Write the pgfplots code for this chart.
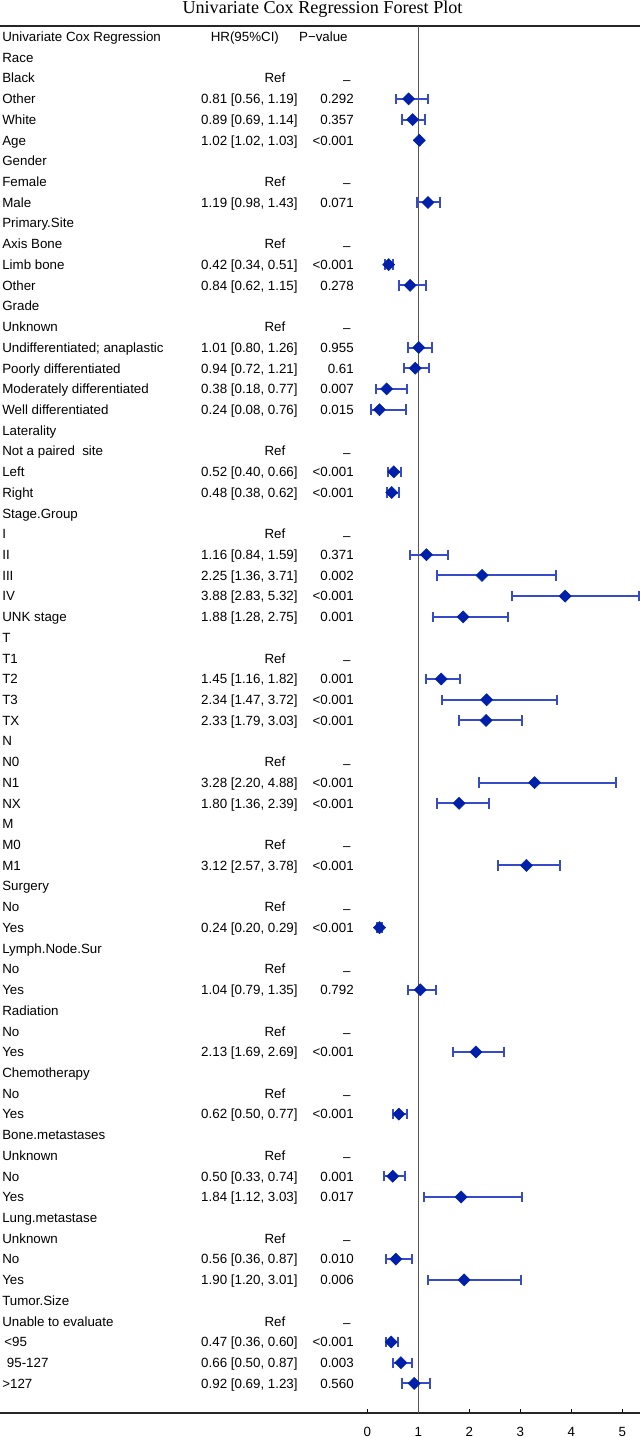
\documentclass[border=0pt]{standalone}
\usepackage{fontspec}
\setmainfont{Liberation Sans}
\newfontfamily\titlefont{Liberation Serif}
\usepackage{pgfplots}
\usepackage{pgfplotstable}
\pgfplotsset{compat=1.18}
\definecolor{dia}{RGB}{0,32,170}
\definecolor{bar}{RGB}{55,75,200}
\definecolor{vline}{RGB}{85,85,85}
\newcommand{\semi}{\char59\relax}

\pgfplotstableread{
y label
0 {Univariate Cox Regression}
1 Race
2 Black
3 Other
4 White
5 Age
6 Gender
7 Female
8 Male
9 Primary.Site
10 {Axis Bone}
11 {Limb bone}
12 Other
13 Grade
14 Unknown
15 {Undifferentiated\semi{} anaplastic}
16 {Poorly differentiated}
17 {Moderately differentiated}
18 {Well differentiated}
19 Laterality
20 {Not a paired\ \ site}
21 Left
22 Right
23 Stage.Group
24 I
25 II
26 III
27 IV
28 {UNK stage}
29 T
30 T1
31 T2
32 T3
33 TX
34 N
35 N0
36 N1
37 NX
38 M
39 M0
40 M1
41 Surgery
42 No
43 Yes
44 Lymph.Node.Sur
45 No
46 Yes
47 Radiation
48 No
49 Yes
50 Chemotherapy
51 No
52 Yes
53 Bone.metastases
54 Unknown
55 No
56 Yes
57 Lung.metastase
58 Unknown
59 No
60 Yes
61 Tumor.Size
62 {Unable to evaluate}
63 {\hspace{1.5pt}<95}
64 {\hspace{3.5pt}95-127}
65 {>127}
}\labtab

\pgfplotstableread{
y hr lo hi hrtxt p
3 0.81 0.56 1.19 {0.81 [0.56, 1.19]} 0.292
4 0.89 0.69 1.14 {0.89 [0.69, 1.14]} 0.357
5 1.02 1.02 1.03 {1.02 [1.02, 1.03]} {<0.001}
8 1.19 0.98 1.43 {1.19 [0.98, 1.43]} 0.071
11 0.42 0.34 0.51 {0.42 [0.34, 0.51]} {<0.001}
12 0.84 0.62 1.15 {0.84 [0.62, 1.15]} 0.278
15 1.01 0.80 1.26 {1.01 [0.80, 1.26]} 0.955
16 0.94 0.72 1.21 {0.94 [0.72, 1.21]} 0.61
17 0.38 0.18 0.77 {0.38 [0.18, 0.77]} 0.007
18 0.24 0.08 0.76 {0.24 [0.08, 0.76]} 0.015
21 0.52 0.40 0.66 {0.52 [0.40, 0.66]} {<0.001}
22 0.48 0.38 0.62 {0.48 [0.38, 0.62]} {<0.001}
25 1.16 0.84 1.59 {1.16 [0.84, 1.59]} 0.371
26 2.25 1.36 3.71 {2.25 [1.36, 3.71]} 0.002
27 3.88 2.83 5.32 {3.88 [2.83, 5.32]} {<0.001}
28 1.88 1.28 2.75 {1.88 [1.28, 2.75]} 0.001
31 1.45 1.16 1.82 {1.45 [1.16, 1.82]} 0.001
32 2.34 1.47 3.72 {2.34 [1.47, 3.72]} {<0.001}
33 2.33 1.79 3.03 {2.33 [1.79, 3.03]} {<0.001}
36 3.28 2.20 4.88 {3.28 [2.20, 4.88]} {<0.001}
37 1.80 1.36 2.39 {1.80 [1.36, 2.39]} {<0.001}
40 3.12 2.57 3.78 {3.12 [2.57, 3.78]} {<0.001}
43 0.24 0.20 0.29 {0.24 [0.20, 0.29]} {<0.001}
46 1.04 0.79 1.35 {1.04 [0.79, 1.35]} 0.792
49 2.13 1.69 2.69 {2.13 [1.69, 2.69]} {<0.001}
52 0.62 0.50 0.77 {0.62 [0.50, 0.77]} {<0.001}
55 0.50 0.33 0.74 {0.50 [0.33, 0.74]} 0.001
56 1.84 1.12 3.03 {1.84 [1.12, 3.03]} 0.017
59 0.56 0.36 0.87 {0.56 [0.36, 0.87]} 0.010
60 1.90 1.20 3.01 {1.90 [1.20, 3.01]} 0.006
63 0.47 0.36 0.60 {0.47 [0.36, 0.60]} {<0.001}
64 0.66 0.50 0.87 {0.66 [0.50, 0.87]} 0.003
65 0.92 0.69 1.23 {0.92 [0.69, 1.23]} 0.560
}\datatab

\pgfplotstableread{
y
2
7
10
14
20
24
30
35
39
42
45
48
51
54
58
62
}\reftab

\newcommand{\bodyfont}{\fontsize{10}{12}\selectfont}

\begin{document}
\begin{tikzpicture}
\path[use as bounding box] (0,-17.8pt) rectangle (480pt,1060pt);
\begin{axis}[
  at={(0,0)}, anchor=south west,
  scale only axis, width=480pt, height=1040.7pt,
  xmin=-7.2, xmax=5.347, ymin=-0.53, ymax=66.44,
  y dir=reverse, clip=false,
  axis line style={draw=none},
  xtick={0,1,2,3,4,5}, ytick=\empty,
  xtick pos=bottom, tick align=inside,
  major tick length=3.5pt,
  tick style={black, line width=0.8pt},
  xticklabel style={font=\bodyfont, yshift=-7pt},
  /pgf/number format/assume math mode=true,
  title={Univariate Cox Regression Forest Plot},
  title style={at={(0.5,1)}, anchor=base, yshift=3.3pt, xshift=1.9pt,
    font=\titlefont\fontsize{13.6}{16}\selectfont},
  every node near coord/.append style={font=\bodyfont, inner sep=0pt, text=black},
]
% frame lines
\draw[line width=1.3pt, black!85] (rel axis cs:0,0) -- (rel axis cs:1,0);
\draw[line width=1.3pt, black!85] (rel axis cs:0,1) -- (rel axis cs:1,1);
% reference line at HR = 1
\addplot[vline, line width=1pt] coordinates {(1,-0.53) (1,66.44)};

% labels column
\addplot[draw=none, nodes near coords, point meta=explicit symbolic,
  nodes near coords style={anchor=base west, yshift=-3.6pt}]
  table[x expr=-7.16, y=y, meta=label] {\labtab};
% HR text column
\addplot[draw=none, nodes near coords, point meta=explicit symbolic,
  nodes near coords style={anchor=base east, yshift=-3.6pt}]
  table[x expr=-1.36, y=y, meta=hrtxt] {\datatab};
% p-value column
\addplot[draw=none, nodes near coords, point meta=explicit symbolic,
  nodes near coords style={anchor=base east, yshift=-3.6pt}]
  table[x expr=-0.26, y=y, meta=p] {\datatab};
% Ref / dash
\addplot[draw=none, nodes near coords={Ref},
  nodes near coords style={anchor=base, yshift=-3.6pt}]
  table[x expr=-1.81, y=y] {\reftab};
\addplot[draw=none, nodes near coords={--},
  nodes near coords style={anchor=base, yshift=-4.6pt}]
  table[x expr=-0.40, y=y] {\reftab};
% headers
\addplot[draw=none, nodes near coords={HR(95\%CI)},
  nodes near coords style={anchor=base, yshift=-3.6pt}]
  coordinates {(-2.40,0)};
\addplot[draw=none, nodes near coords={P\textminus value},
  nodes near coords style={anchor=base, yshift=-3.6pt}]
  coordinates {(-0.86,0)};

% forest points
\addplot[only marks, mark=square*, mark size=3.2pt,
  mark options={rotate=45, fill=dia, draw=dia},
  error bars/.cd, x dir=both, x explicit,
  error mark=|,
  error bar style={bar, line width=1.5pt},
  error mark options={bar, line width=1.5pt, mark size=3.9pt}]
  table[x=hr, y=y,
    x error plus expr=\thisrow{hi}-\thisrow{hr},
    x error minus expr=\thisrow{hr}-\thisrow{lo}] {\datatab};
\end{axis}
\end{tikzpicture}
\end{document}
